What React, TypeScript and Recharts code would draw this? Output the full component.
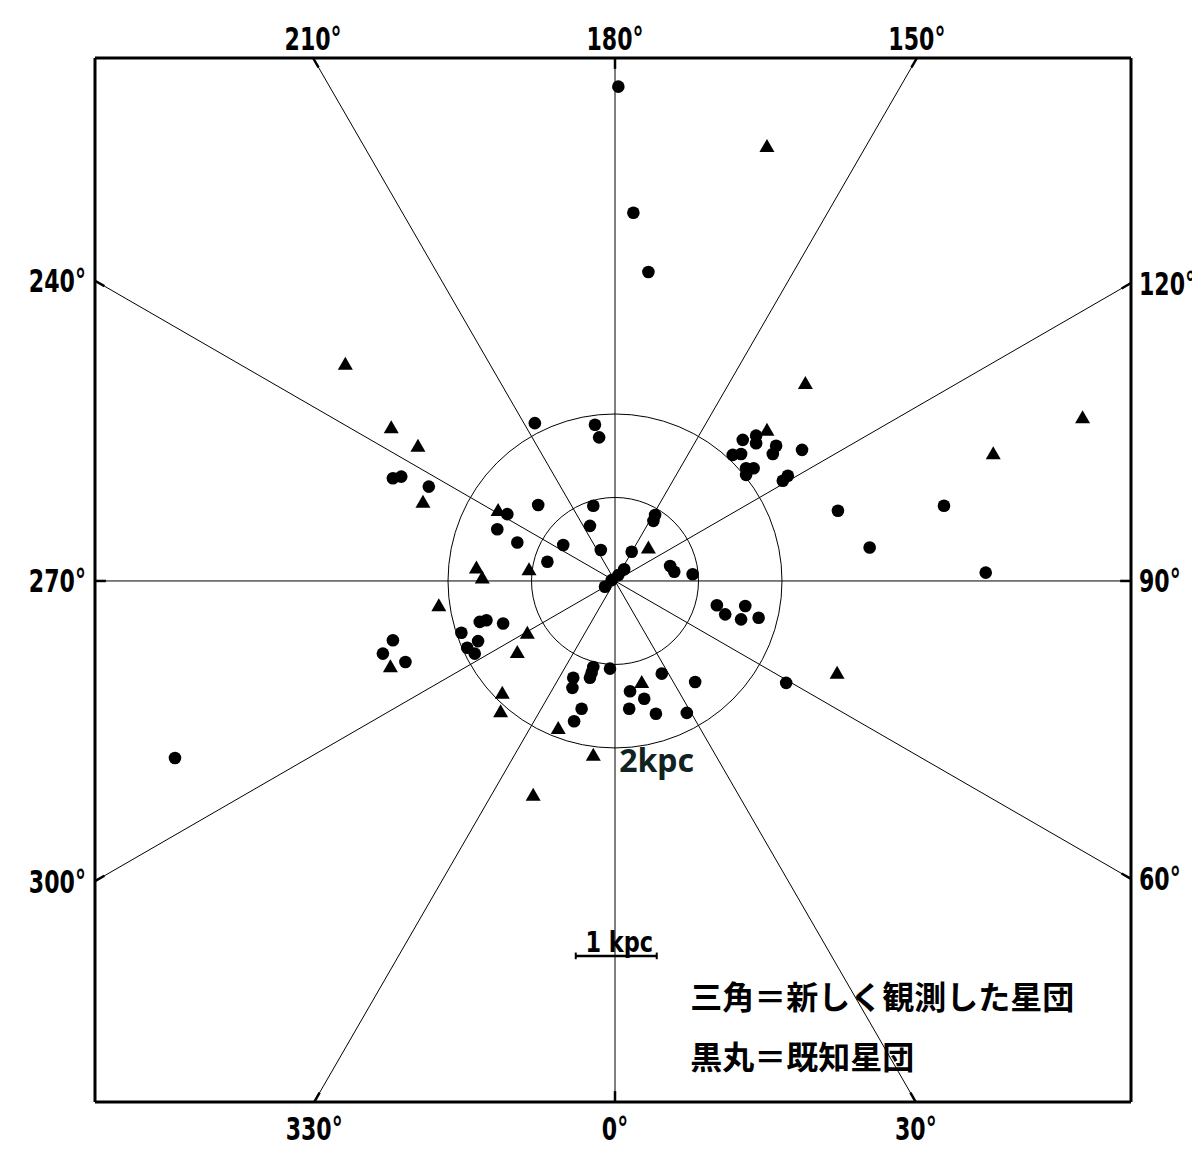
import React from 'react';
import { ScatterChart, Scatter, XAxis, YAxis, ReferenceLine, ReferenceDot } from 'recharts';

// Known clusters (黒丸), heliocentric galactic plane coordinates in kpc (x toward l=90°, y toward l=180°)
const knownX = [0.04, 0.22, 0.40, -5.27, 2.67, 3.05, 3.94, 4.44, 2.05,
  1.53, 1.69, 1.69, 1.41, 1.51, 1.93, 1.89, 2.24, 1.57, 1.66, 1.57, 2.07, 2.01,
  1.22, 1.32, 1.56, 1.51, 1.72,
  -0.96, -0.24, -0.19, -2.23, -1.29, -0.92, -1.41, -1.17, -0.26, -0.30, -0.62, -0.81, -0.17,
  0.48, 0.46, 0.20, 0.11, 0.04, -0.04, -0.12, 0.66, 0.71, 0.93,
  -2.66, -2.56,
  -1.62, -1.54, -1.34, -1.84, -1.64, -1.77, -1.68, -2.66, -2.78, -2.51,
  -0.49, -0.40, -0.50, -0.51, -0.26, -0.30, -0.06, 0.18, 0.35, 0.17, 0.49, 0.56, 0.86, 0.96, -0.28];
const knownY = [5.92, 4.41, 3.70, -2.12, 0.84, 0.40, 0.90, 0.10, -1.22,
  1.69, 1.74, 1.65, 1.51, 1.52, 1.62, 1.52, 1.57, 1.35, 1.35, 1.27, 1.26, 1.20,
  -0.29, -0.40, -0.30, -0.46, -0.44,
  1.89, 1.87, 1.72, 1.13, 0.80, 0.91, 0.62, 0.46, 0.90, 0.66, 0.43, 0.23, 0.37,
  0.79, 0.72, 0.35, 0.14, 0.07, 0.01, -0.07, 0.18, 0.11, 0.08,
  1.23, 1.25,
  -0.49, -0.47, -0.51, -0.62, -0.72, -0.80, -0.87, -0.71, -0.87, -0.97,
  -1.68, -1.53, -1.16, -1.28, -1.03, -1.16, -1.05, -1.32, -1.41, -1.53, -1.59, -1.11, -1.58, -1.21, -1.10];

// Newly observed clusters (三角)
const newX = [1.82, -3.23, 2.28, 5.60, 4.53, 2.66, -0.98, -0.26, 1.82, -2.68, -2.36, -2.30, -1.40,
  0.40, -1.66, -1.59, -1.03, -2.11, -1.05, -1.17, -1.35, -1.37, -0.68, 0.32, -2.69];
const newY = [5.21, 2.60, 2.37, 1.96, 1.53, -1.10, -2.56, -2.08, 1.81, 1.84, 1.62, 0.95, 0.85,
  0.40, 0.16, 0.04, 0.14, -0.29, -0.62, -0.85, -1.34, -1.56, -1.76, -1.21, -1.02];

const ringRadiiKpc = [1, 2];
const spokeAngles = [0, 30, 60, 90, 120, 150];
const topAngles = [210, 180, 150];
const leftAngles = [240, 270, 300];
const rightAngles = [120, 90, 60];
const bottomAngles = [330, 0, 30];

const X_MIN = -6.228, X_MAX = 6.18, Y_MIN = -6.24, Y_MAX = 6.263;
const PLOT_W = 1036;
const PX_PER_KPC = PLOT_W / (X_MAX - X_MIN);

function edgePoint(deg: number) {
  const r = (deg * Math.PI) / 180;
  const dx = Math.sin(r), dy = -Math.cos(r);
  let t = Infinity;
  if (dx > 1e-9) t = Math.min(t, X_MAX / dx);
  if (dx < -1e-9) t = Math.min(t, X_MIN / dx);
  if (dy > 1e-9) t = Math.min(t, Y_MAX / dy);
  if (dy < -1e-9) t = Math.min(t, Y_MIN / dy);
  return { x: t * dx, y: t * dy, t, dx, dy };
}

const knownData = knownX.map((x, i) => ({ x, y: knownY[i] }));
const newData = newX.map((x, i) => ({ x, y: newY[i] }));

const FONT = '"DejaVu Sans", "Liberation Sans", sans-serif';

function labelFor(angles: number[], axis: 'x' | 'y', v: number) {
  const vals = angles.map((a) => edgePoint(a)[axis]);
  let best = 0;
  vals.forEach((val, i) => {
    if (Math.abs(val - v) < Math.abs(vals[best] - v)) best = i;
  });
  return `${angles[best]}°`;
}

const makeTick = (angles: number[], axis: 'x' | 'y', anchor: string, dy: string) => (props: any) => {
  const { x, y, payload } = props;
  return (
    <text
      transform={`translate(${x},${y}) scale(0.69,1)`}
      textAnchor={anchor}
      dy={dy}
      fill="#000"
      fontSize={32}
      fontWeight={700}
      fontFamily={FONT}
    >
      {labelFor(angles, axis, payload.value)}
    </text>
  );
};

const DotShape = (p: any) => <circle cx={p.cx} cy={p.cy} r={6.3} fill="#000" />;
const TriShape = (p: any) => (
  <polygon
    points={`${p.cx},${p.cy - 7} ${p.cx - 7.5},${p.cy + 6} ${p.cx + 7.5},${p.cy + 6}`}
    fill="#000"
  />
);

const AX = { xAxisId: 'b', yAxisId: 'l' } as const;

export default function App() {
  const spokes = spokeAngles.map((a) => {
    const p1 = edgePoint(a);
    const p2 = edgePoint(a + 180);
    return [{ x: p1.x, y: p1.y }, { x: p2.x, y: p2.y }];
  });
  const allEdge = [...topAngles, ...leftAngles, ...rightAngles, ...bottomAngles];
  const edgeTicks = allEdge.map((a) => {
    const p = edgePoint(a);
    const inner = p.t - 0.13;
    return [{ x: p.dx * inner, y: p.dy * inner }, { x: p.x, y: p.y }];
  });

  const textShape = (txt: string, style: any, anchor: string = 'start', sx: number = 1) => (p: any) => (
    <text transform={`translate(${p.cx},${p.cy}) scale(${sx},1)`} textAnchor={anchor} {...style}>{txt}</text>
  );

  const jpStyle = { fontSize: 32, fontWeight: 700, fill: '#000', fontFamily: '"Noto Sans CJK JP", sans-serif' };

  return (
    <div style={{ width: 1192, height: 1141, overflow: 'visible' }}>
      <ScatterChart width={1192} height={1141} margin={{ top: 10, right: 9, bottom: 7, left: 17 }}>
        <XAxis
          xAxisId="b" type="number" dataKey="x" orientation="bottom" domain={[X_MIN, X_MAX]}
          allowDataOverflow height={40} ticks={bottomAngles.map((a) => edgePoint(a).x)} interval={0}
          tick={makeTick(bottomAngles, 'x', 'middle', '0.71em')} tickLine={false} tickMargin={9}
          axisLine={{ stroke: '#000', strokeWidth: 3 }}
        />
        <XAxis
          xAxisId="t" type="number" dataKey="x" orientation="top" domain={[X_MIN, X_MAX]}
          allowDataOverflow height={40} ticks={topAngles.map((a) => edgePoint(a).x)} interval={0}
          tick={makeTick(topAngles, 'x', 'middle', '0')} tickLine={false} tickMargin={2}
          axisLine={{ stroke: '#000', strokeWidth: 3 }}
        />
        <YAxis
          yAxisId="l" type="number" dataKey="y" orientation="left" domain={[Y_MIN, Y_MAX]}
          allowDataOverflow width={70} ticks={leftAngles.map((a) => edgePoint(a).y)} interval={0}
          tick={makeTick(leftAngles, 'y', 'end', '0.36em')} tickLine={false} tickMargin={3}
          axisLine={{ stroke: '#000', strokeWidth: 3 }}
        />
        <YAxis
          yAxisId="r" type="number" dataKey="y" orientation="right" domain={[Y_MIN, Y_MAX]}
          allowDataOverflow width={60} ticks={rightAngles.map((a) => edgePoint(a).y)} interval={0}
          tick={makeTick(rightAngles, 'y', 'start', '0.36em')} tickLine={false} tickMargin={2}
          axisLine={{ stroke: '#000', strokeWidth: 3 }}
        />

        {spokes.map((seg, i) => (
          <ReferenceLine key={`s${i}`} {...AX} segment={seg} stroke="#000" strokeWidth={1} ifOverflow="visible" />
        ))}
        {edgeTicks.map((seg, i) => (
          <ReferenceLine key={`e${i}`} {...AX} segment={seg} stroke="#000" strokeWidth={2.5} ifOverflow="visible" />
        ))}
        {ringRadiiKpc.map((r) => (
          <ReferenceDot key={`c${r}`} {...AX} x={0} y={0} r={r * PX_PER_KPC} fill="none" stroke="#000" strokeWidth={1} ifOverflow="visible" />
        ))}

        <ReferenceLine {...AX} segment={[{ x: -0.47, y: -4.49 }, { x: 0.5, y: -4.49 }]} stroke="#000" strokeWidth={2.5} ifOverflow="visible" />
        <ReferenceLine {...AX} segment={[{ x: -0.47, y: -4.45 }, { x: -0.47, y: -4.53 }]} stroke="#000" strokeWidth={2} ifOverflow="visible" />
        <ReferenceLine {...AX} segment={[{ x: 0.5, y: -4.45 }, { x: 0.5, y: -4.53 }]} stroke="#000" strokeWidth={2} ifOverflow="visible" />
        <ReferenceDot {...AX} x={0.05} y={-4.44} r={1} ifOverflow="visible"
          shape={textShape('1 kpc', { fontSize: 28, fontWeight: 700, fill: '#000', fontFamily: FONT }, 'middle', 0.8)} />
        <ReferenceDot {...AX} x={0.05} y={-2.29} r={1} ifOverflow="visible"
          shape={textShape('2kpc', { fontSize: 32, fontWeight: 700, fill: '#112222', fontFamily: '"Noto Sans", sans-serif' })} />
        <ReferenceDot {...AX} x={0.9} y={-5.13} r={1} ifOverflow="visible"
          shape={textShape('三角＝新しく観測した星団', jpStyle)} />
        <ReferenceDot {...AX} x={0.9} y={-5.84} r={1} ifOverflow="visible"
          shape={textShape('黒丸＝既知星団', jpStyle)} />

        <Scatter {...AX} name="既知星団" data={knownData} shape={DotShape} isAnimationActive={false} />
        <Scatter {...AX} name="新しく観測した星団" data={newData} shape={TriShape} isAnimationActive={false} />
      </ScatterChart>
    </div>
  );
}
